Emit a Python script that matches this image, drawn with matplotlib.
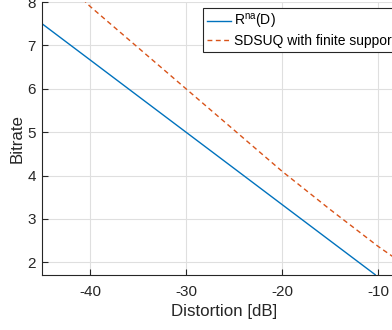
import matplotlib
matplotlib.use("Agg")
import matplotlib.pyplot as plt
import numpy as np

plt.rcParams['font.family'] = ['Liberation Sans', 'DejaVu Sans']
plt.rcParams['mathtext.fontset'] = 'custom'
plt.rcParams['mathtext.rm'] = 'Liberation Sans'
plt.rcParams['mathtext.it'] = 'Liberation Sans:italic'
plt.rcParams['axes.unicode_minus'] = False

# Data
distortion_rna = [-45, -40, -35, -30, -25, -20, -15, -10.3]
rate_rna = [7.5, 6.667, 5.833, 5.0, 4.167, 3.333, 2.5, 1.717]

distortion_sdsuq = [-45, -40, -35, -30, -25, -20, -15, -10, -5]
rate_sdsuq = [9.0, 7.9, 6.95, 6.0, 5.05, 4.1, 3.22, 2.37, 1.6]

x_ticks = [-40, -30, -20, -10]
y_ticks = [2, 3, 4, 5, 6, 7, 8]
legend_labels = [r'R$^{\rm na}$(D)', 'SDSUQ with finite support']

W, H = 392, 330
fig = plt.figure(figsize=(W/100, H/100), dpi=100)
left, right, bottom, top = 42, 406, 274.5, 2
ax = fig.add_axes([left/W, (H-bottom)/H, (right-left)/W, (bottom-top)/H])

blue = '#0072BD'
orange = '#D95319'
ax.plot(distortion_rna, rate_rna, color=blue, lw=1.0, label=legend_labels[0])
ax.plot(distortion_sdsuq, rate_sdsuq, color=orange, lw=1.0, ls=(0, (3.5, 2.5)), label=legend_labels[1])

xmax = -45 + (right-left)/9.6
ax.set_xlim(-45, xmax)
ax.set_ylim(1.72, 8)
ax.set_xticks(x_ticks)
ax.set_yticks(y_ticks)
ax.grid(True, color='#DFDFDF', lw=0.8)
ax.set_axisbelow(True)
for s in ['top', 'right']:
    ax.spines[s].set_visible(False)
for s in ['left', 'bottom']:
    ax.spines[s].set_color('#262626')
    ax.spines[s].set_linewidth(0.8)
ax.tick_params(direction='in', length=4, width=0.8, color='#262626',
               labelcolor='#262626', labelsize=11)
ax.tick_params(axis='x', pad=7.5)
ax.tick_params(axis='y', pad=4.5)

ax.set_xlabel('Distortion [dB]', fontsize=12.2, color='#262626', labelpad=4)
ax.set_ylabel('Bitrate', fontsize=12.2, color='#262626', labelpad=2)

leg = ax.legend(loc='upper right', fontsize=10, frameon=True, fancybox=False,
                edgecolor='#262626', framealpha=1, borderpad=0.3, handlelength=1.75,
                handletextpad=0.22, labelspacing=0.2, borderaxespad=0.43)
leg.get_frame().set_linewidth(0.8)

fig.savefig('out.png', dpi=100)
